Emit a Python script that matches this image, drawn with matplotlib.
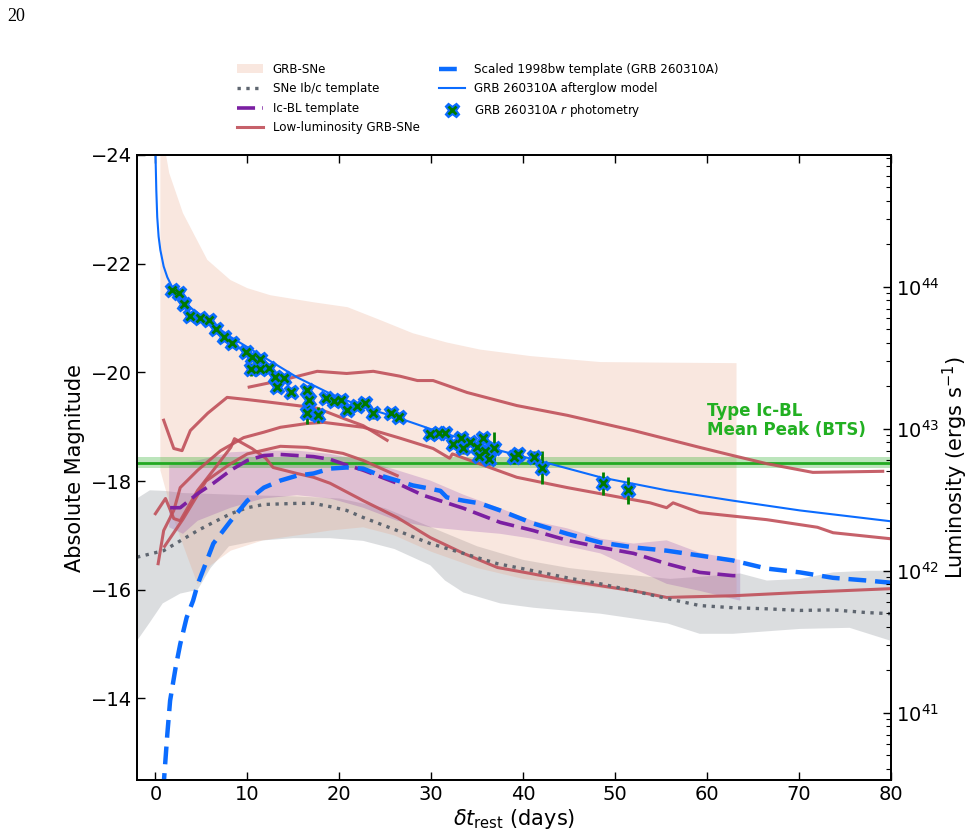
import numpy as np
import matplotlib
matplotlib.use("Agg")
import matplotlib.pyplot as plt
from matplotlib.lines import Line2D
from matplotlib.patches import Patch
from matplotlib.legend_handler import HandlerTuple

# ---------------- data ----------------
# GRB-SNe envelope
grbsne_up_t = [0.54, 1.5, 3.0, 5.65, 8.15, 10.0, 12.5, 17.2, 20.9, 24.5, 28.0, 31.7, 35.3, 40.8, 48.4, 55.0, 63.2]
grbsne_up_m = [-24.6, -23.67, -22.93, -22.07, -21.70, -21.55, -21.42, -21.29, -21.20, -20.96, -20.72, -20.55, -20.42, -20.30, -20.19, -20.18, -20.17]
grbsne_lo_t = [0.54, 2.0, 3.5, 4.6, 6.0, 8.2, 11.7, 19.0, 22.6, 26.0, 30.0, 35.0, 40.0, 50.0, 56.0, 63.2]
grbsne_lo_m = [-18.2, -17.3, -16.6, -16.1, -16.45, -16.72, -16.91, -17.09, -17.15, -17.0, -16.7, -16.4, -16.2, -16.0, -15.9, -15.85]

# SNe Ib/c template and envelope
ibc_t = [-2.0, 0.9, 2.7, 4.6, 6.3, 8.2, 10.0, 11.8, 15.4, 17.2, 19.0, 20.8, 22.6, 26.3, 29.9, 33.5, 37.2, 41.1, 44.8, 48.4, 52.0, 55.6, 59.2, 62.8, 66.5, 70.1, 73.7, 77.4, 80.0]
ibc_m = [-16.6, -16.72, -16.9, -17.09, -17.24, -17.4, -17.51, -17.57, -17.59, -17.59, -17.53, -17.46, -17.33, -17.09, -16.85, -16.67, -16.48, -16.35, -16.22, -16.11, -15.98, -15.84, -15.71, -15.67, -15.65, -15.62, -15.63, -15.58, -15.56]
ibc_up_t = [-2.0, -0.6, 1.0, 3.0, 5.0, 10.0, 15.0, 20.0, 25.0, 30.0, 35.0, 40.0, 45.0, 50.0, 56.0, 60.0, 63.6, 66.5, 70.1, 73.7, 77.4, 80.0]
ibc_up_m = [-17.68, -17.83, -17.82, -17.78, -17.77, -17.74, -17.72, -17.68, -17.5, -17.15, -16.8, -16.55, -16.4, -16.3, -16.2, -16.25, -16.30, -16.17, -16.2, -16.32, -16.35, -16.35]
ibc_lo_t = [-2.0, -0.6, 0.8, 2.7, 4.6, 6.0, 8.0, 11.0, 15.0, 19.0, 22.6, 26.0, 29.9, 31.5, 33.5, 37.5, 41.1, 48.4, 55.7, 59.2, 62.8, 70.1, 75.5, 80.0]
ibc_lo_m = [-15.06, -15.4, -15.75, -15.93, -16.0, -16.4, -16.8, -16.9, -16.95, -16.95, -16.9, -16.75, -16.45, -16.17, -15.95, -15.75, -15.67, -15.56, -15.38, -15.19, -15.19, -15.28, -15.30, -15.06]

# Ic-BL template and envelope
icbl_t = [1.6, 2.7, 4.6, 6.3, 8.2, 10.0, 11.8, 13.6, 15.4, 17.2, 19.0, 20.9, 22.6, 26.3, 29.1, 33.5, 37.5, 41.1, 44.8, 48.4, 52.0, 55.6, 59.2, 62.8, 63.6]
icbl_m = [-17.51, -17.51, -17.77, -17.96, -18.2, -18.38, -18.47, -18.49, -18.47, -18.45, -18.4, -18.29, -18.2, -17.96, -17.74, -17.5, -17.24, -17.09, -16.91, -16.78, -16.67, -16.48, -16.32, -16.26, -16.26]
icbl_up_t = [1.5, 4.6, 8.2, 11.8, 15.4, 19.0, 22.6, 26.3, 29.9, 33.5, 37.5, 41.0, 44.8, 48.4, 52.0, 55.6, 59.2, 62.8, 63.6]
icbl_up_m = [-18.29, -18.38, -18.53, -18.56, -18.56, -18.5, -18.38, -18.2, -18.01, -17.75, -17.5, -17.27, -17.13, -16.94, -16.85, -16.91, -16.68, -16.57, -16.55]
icbl_lo_t = [1.5, 3.0, 4.6, 8.2, 11.7, 15.4, 19.0, 22.6, 26.3, 29.9, 33.5, 37.5, 41.0, 48.4, 55.6, 59.2, 63.6]
icbl_lo_m = [-17.15, -17.03, -17.27, -17.51, -17.68, -17.74, -17.68, -17.51, -17.27, -17.15, -17.09, -17.03, -16.94, -16.67, -16.11, -15.98, -15.8]

# Scaled 1998bw template
bw_t = [0.85, 1.3, 1.6, 2.2, 2.7, 3.4, 4.1, 4.6, 6.3, 8.2, 10.0, 11.8, 13.6, 15.4, 17.2, 19.0, 20.8, 22.6, 24.5, 26.3, 28.0, 29.9, 31.0, 31.7, 33.5, 35.3, 37.5, 41.1, 44.8, 48.4, 52.0, 55.6, 59.2, 62.8, 66.5, 70.1, 73.7, 77.4, 80.0]
bw_m = [-12.3, -13.35, -13.96, -14.57, -15.0, -15.49, -15.8, -16.1, -16.85, -17.27, -17.64, -17.88, -18.01, -18.1, -18.14, -18.23, -18.25, -18.23, -18.1, -18.01, -17.92, -17.86, -17.82, -17.7, -17.64, -17.59, -17.46, -17.22, -17.03, -16.87, -16.78, -16.72, -16.63, -16.54, -16.39, -16.32, -16.22, -16.17, -16.13]

# Afterglow model
ag_t = [0.0, 0.1, 0.2, 0.35, 0.54, 0.9, 1.3, 2.0, 3.0, 4.6, 8.2, 11.8, 15.4, 19.0, 22.6, 26.3, 29.9, 33.5, 37.5, 42.9, 48.4, 55.6, 62.8, 70.1, 80.0]
ag_m = [-24.1, -23.35, -22.86, -22.5, -22.25, -21.95, -21.75, -21.51, -21.3, -21.09, -20.65, -20.28, -19.91, -19.61, -19.36, -19.17, -18.96, -18.77, -18.56, -18.32, -18.07, -17.83, -17.64, -17.46, -17.26]

# Low-luminosity GRB-SNe
ll_a_t = [10.2, 13.6, 17.6, 20.8, 23.7, 26.6, 28.5, 30.2, 33.9, 39.3, 44.8, 52.0, 59.2, 62.8, 66.5, 71.5, 79.1]
ll_a_m = [-19.73, -19.85, -20.02, -19.98, -20.02, -19.93, -19.85, -19.85, -19.63, -19.39, -19.21, -18.93, -18.62, -18.47, -18.32, -18.16, -18.18]
ll_b_t = [0.9, 2.0, 2.9, 3.8, 5.7, 7.8, 10.0, 12.5, 15.4, 17.6, 20.5, 22.6, 25.2]
ll_b_m = [-19.12, -18.6, -18.56, -18.93, -19.25, -19.54, -19.5, -19.45, -19.39, -19.34, -19.15, -19.02, -18.75]
ll_c_t = [0.3, 0.9, 2.0, 2.7, 4.6, 7.1, 9.6, 11.8, 13.6, 16.5, 18.3, 22.6, 26.6, 30.2, 32.0, 32.3, 35.7, 39.3, 44.8, 53.8, 55.6, 56.3, 59.2, 66.5, 72.0, 73.7, 79.9]
ll_c_m = [-16.48, -17.09, -17.46, -17.88, -18.2, -18.56, -18.8, -18.9, -18.99, -19.06, -19.08, -18.99, -18.79, -18.6, -18.42, -18.5, -18.29, -18.07, -17.88, -17.6, -17.51, -17.6, -17.42, -17.29, -17.15, -17.05, -16.94]
ll_d_t = [0.0, 1.1, 2.0, 2.7, 4.6, 6.3, 8.2, 8.6, 10.5, 12.0, 12.8, 15.4, 17.2, 19.0, 22.6, 26.3, 29.9, 33.5, 37.2, 40.8, 44.8, 52.0, 55.6, 62.8, 70.1, 79.9]
ll_d_m = [-17.4, -17.68, -17.31, -17.27, -17.83, -18.2, -18.62, -18.78, -18.6, -18.42, -18.25, -18.14, -18.07, -17.96, -17.64, -17.33, -16.96, -16.67, -16.41, -16.3, -16.17, -15.98, -15.86, -15.89, -15.95, -16.02]
ll_e_t = [1.0, 3.0, 5.5, 8.0, 10.0, 13.6, 16.5, 20.4, 22.6, 26.3]
ll_e_m = [-16.8, -17.3, -18.0, -18.3, -18.5, -18.64, -18.62, -18.51, -18.38, -18.1]

# GRB 260310A r photometry
phot_t = [1.8, 2.6, 3.1, 3.8, 4.8, 5.8, 6.6, 7.5, 8.3, 9.8, 10.5, 11.4, 10.4, 11.4, 12.4, 13.0, 14.0, 13.2, 14.8, 16.5, 16.7, 16.5, 17.7, 18.6, 19.4, 20.2, 20.8, 21.9, 22.8, 23.7, 25.6, 26.5, 29.9, 30.8, 31.5, 32.4, 33.2, 33.5, 34.2, 35.0, 35.6, 35.2, 35.9, 36.3, 36.8, 39.0, 39.4, 41.2, 42.0, 48.7, 51.4]
phot_m = [-21.51, -21.46, -21.25, -21.03, -21.0, -20.96, -20.79, -20.65, -20.54, -20.37, -20.28, -20.24, -20.06, -20.06, -20.09, -19.91, -19.89, -19.73, -19.64, -19.67, -19.5, -19.25, -19.21, -19.52, -19.47, -19.49, -19.3, -19.39, -19.43, -19.25, -19.26, -19.17, -18.86, -18.88, -18.88, -18.69, -18.79, -18.6, -18.71, -18.62, -18.79, -18.47, -18.56, -18.4, -18.6, -18.44, -18.49, -18.44, -18.25, -17.96, -17.83]
phot_err = [0.05, 0.05, 0.05, 0.05, 0.05, 0.05, 0.05, 0.05, 0.05, 0.05, 0.05, 0.05, 0.12, 0.05, 0.05, 0.05, 0.05, 0.05, 0.05, 0.05, 0.25, 0.2, 0.15, 0.05, 0.05, 0.05, 0.05, 0.05, 0.05, 0.1, 0.05, 0.05, 0.05, 0.05, 0.05, 0.05, 0.05, 0.1, 0.05, 0.05, 0.05, 0.05, 0.05, 0.1, 0.3, 0.12, 0.05, 0.12, 0.31, 0.21, 0.25]

icbl_peak = -18.34
icbl_peak_err = 0.1

# ---------------- figure ----------------
plt.rcParams['font.family'] = ['DejaVu Sans']
fig = plt.figure(figsize=(9.75, 8.35), dpi=100)
ax = fig.add_axes([137/975, 1-780/835, (891-137)/975, (780-155)/835])

peach = '#e8a080'
gray = '#8a9098'
purple = '#7b1fa2'
red = '#c0505a'
blue = '#0b6cff'
green_txt = '#22b022'

# envelopes
ax.fill(np.concatenate([ibc_up_t, ibc_lo_t[::-1]]), np.concatenate([ibc_up_m, ibc_lo_m[::-1]]),
        color=gray, alpha=0.3, lw=0, zorder=1)
ax.fill(np.concatenate([grbsne_up_t, grbsne_lo_t[::-1]]), np.concatenate([grbsne_up_m, grbsne_lo_m[::-1]]),
        color=peach, alpha=0.25, lw=0, zorder=1.1)
ax.fill(np.concatenate([icbl_up_t, icbl_lo_t[::-1]]), np.concatenate([icbl_up_m, icbl_lo_m[::-1]]),
        color=purple, alpha=0.2, lw=0, zorder=1.2)

# green mean peak band
ax.axhspan(icbl_peak - icbl_peak_err, icbl_peak + icbl_peak_err, color='#22aa22', alpha=0.3, lw=0, zorder=1.5)
ax.axhline(icbl_peak, color='#22aa22', lw=2, zorder=1.6)

# low-luminosity GRB-SNe
for tt, mm in [(ll_a_t, ll_a_m), (ll_b_t, ll_b_m), (ll_c_t, ll_c_m), (ll_d_t, ll_d_m), (ll_e_t, ll_e_m)]:
    ax.plot(tt, mm, color=red, lw=2.2, alpha=0.9, zorder=2)

ax.plot(ibc_t, ibc_m, color='#5f6670', lw=2.4, ls=':', zorder=3)
ax.plot(icbl_t, icbl_m, color=purple, lw=2.6, dashes=(5, 2), zorder=3)
ax.plot(bw_t, bw_m, color=blue, lw=3.2, dashes=(4, 2), zorder=3.5)
ax.plot(ag_t, ag_m, color=blue, lw=1.5, zorder=4)

ax.errorbar(phot_t, phot_m, yerr=phot_err, fmt='none', ecolor='#008000', elinewidth=2, capsize=0, zorder=5)
ax.plot(phot_t, phot_m, ls='none', marker='X', ms=10.5, color=blue, mec=blue, zorder=5.5)
ax.plot(phot_t, phot_m, ls='none', marker='x', ms=6, mew=2, color='#007a00', zorder=6)

ax.text(60, -18.78, 'Type Ic-BL\nMean Peak (BTS)', color=green_txt, fontsize=12, fontweight='bold',
        ha='left', va='bottom', linespacing=1.05, zorder=7)

ax.set_xlim(-2, 80)
ax.set_ylim(-12.5, -24)
ax.set_xticks([0, 10, 20, 30, 40, 50, 60, 70, 80])
ax.set_yticks([-24, -22, -20, -18, -16, -14])
ax.tick_params(axis='both', direction='in', labelsize=14, length=6, width=1, top=True)
ax.tick_params(axis='y', right=False)
ax.set_xlabel(r'$\delta t_{\rm rest}$ (days)', fontsize=15, labelpad=2)
ax.set_ylabel('Absolute Magnitude', fontsize=15, labelpad=4)
for s in ax.spines.values():
    s.set_linewidth(1.3)

ax2 = ax.twinx()
ax2.set_yscale('log')
ax2.set_ylim(10**40.525, 10**44.926)
ax2.tick_params(axis='y', which='major', direction='in', labelsize=14, length=6, width=1)
ax2.tick_params(axis='y', which='minor', direction='in', length=3.5, width=0.8)
ax2.set_ylabel(r'Luminosity (ergs s$^{-1}$)', fontsize=15, labelpad=1)
for s in ax2.spines.values():
    s.set_linewidth(1.3)

# legend
h_grb = Patch(facecolor=peach, alpha=0.25, edgecolor='none')
h_ibc = Line2D([], [], color='#5f6670', lw=2.4, ls=':')
h_icbl = Line2D([], [], color=purple, lw=2.6, dashes=(5, 2))
h_ll = Line2D([], [], color=red, lw=2.2, alpha=0.9)
h_bw = Line2D([], [], color=blue, lw=3.2, dashes=(4, 2))
h_ag = Line2D([], [], color=blue, lw=1.5)
h_ph = (Line2D([], [], ls='none', marker='X', ms=10.5, color=blue),
        Line2D([], [], ls='none', marker='x', ms=6, mew=2, color='#007a00'))
handles = [h_grb, h_ibc, h_icbl, h_ll, h_bw, h_ag, h_ph]
labels = ['GRB-SNe', 'SNe Ib/c template', 'Ic-BL template', 'Low-luminosity GRB-SNe',
          'Scaled 1998bw template (GRB 260310A)', 'GRB 260310A afterglow model',
          'GRB 260310A $r$ photometry']
fig.legend(handles, labels, loc='upper left', bbox_to_anchor=(226/975, 1-52/835), ncol=2,
           frameon=False, fontsize=8.6, columnspacing=1.6, handlelength=2.2, labelspacing=0.55,
           handler_map={tuple: HandlerTuple(ndivide=1)})

fig.text(7/975, 1-8/835, '20', fontsize=13, family='Liberation Serif', ha='left', va='top')

fig.savefig('out.png', dpi=100)
